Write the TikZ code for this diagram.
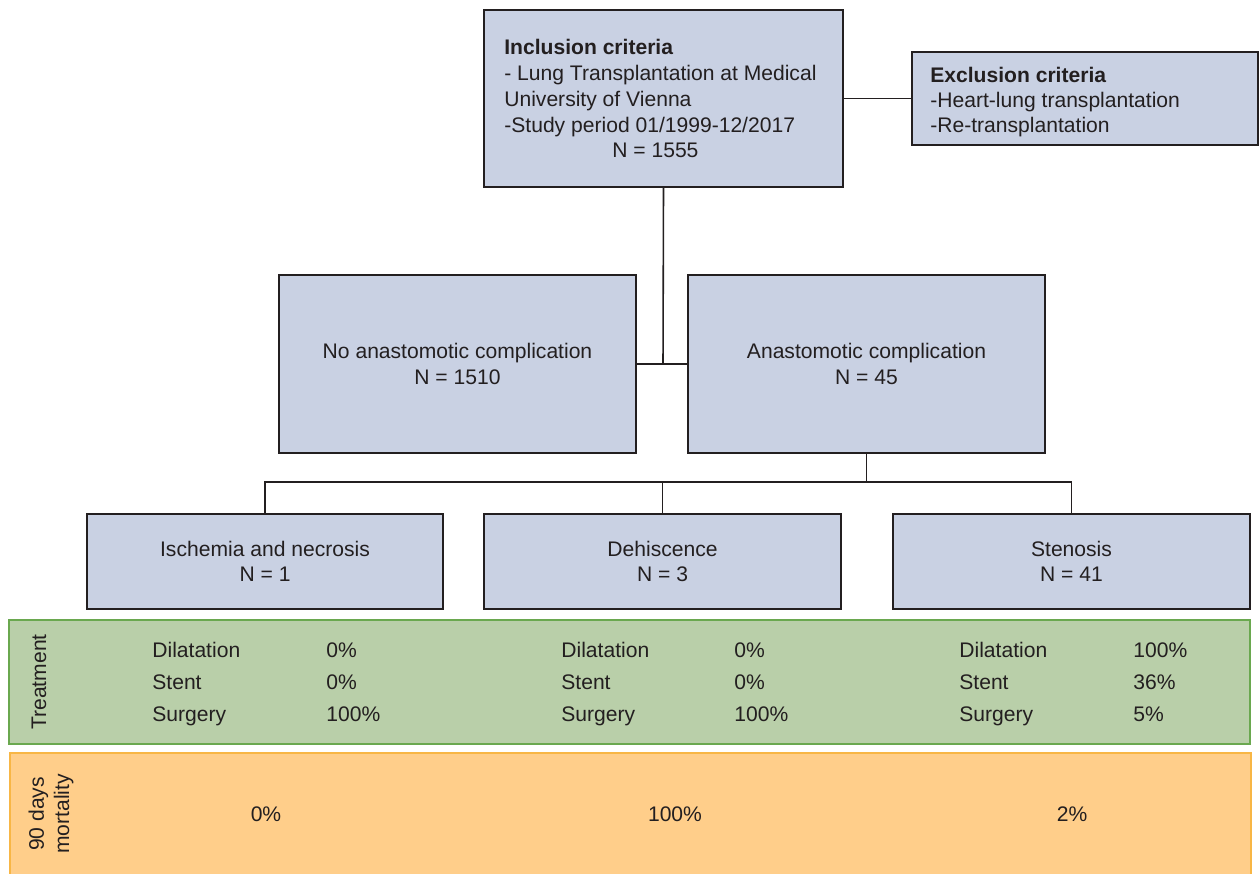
\documentclass[tikz,border=0pt]{standalone}
\usepackage{fontspec}
\setmainfont{Liberation Sans}
\usetikzlibrary{positioning}
\definecolor{fcBlue}{HTML}{C9D1E3}
\definecolor{fcLine}{HTML}{231F20}
\definecolor{fcGreen}{HTML}{B9CFA9}
\definecolor{fcGreenDark}{HTML}{6AA84F}
\definecolor{fcOrange}{HTML}{FFCE8A}
\definecolor{fcOrangeDark}{HTML}{F8B645}

\begin{document}
\begin{tikzpicture}[
  x=0.02cm, y=-0.02cm,
  font=\fontsize{12}{14.4}\selectfont,
  text=fcLine,
  box/.style={
    draw=fcLine,
    line width=1.1pt,
    fill=fcBlue,
    inner sep=0pt,
    align=center
  },
  band/.style={
    line width=1.1pt,
    inner sep=0pt,
    minimum width=24.84cm
  },
  item/.style={anchor=base west,inner sep=0pt},
  link/.style={draw=fcLine,line width=0.9pt}
]
  \useasboundingbox (0,0) rectangle (1260,874);

  % flow boxes
  \node[box,minimum width=7.18cm,minimum height=3.54cm] (incl) at (663.5,98.5) {};
  \node[anchor=north west,inner sep=0pt,align=left,
        font=\fontsize{12}{14.7}\selectfont] (incltext) at (504,39)
    {\textbf{Inclusion criteria}\\
     - Lung Transplantation at Medical\\
     University of Vienna\\
     -Study period 01/1999-12/2017\\
     \hspace*{2.16cm}N = 1555};
  \node[box,minimum width=6.92cm,minimum height=1.86cm] (excl) at (1085,98.5) {};
  \node[anchor=west,inner sep=0pt,align=left] (excltext) at (930,102)
    {\textbf{Exclusion criteria}\\
     -Heart-lung transplantation\\
     -Re-transplantation};

  \node[box,minimum width=7.14cm,minimum height=3.56cm] (noanast) at (457.5,364)
    {No anastomotic complication\\N = 1510};
  \node[box,minimum width=7.14cm,minimum height=3.56cm] (anast) at (866.5,364)
    {Anastomotic complication\\N = 45};

  \node[box,minimum width=7.12cm,minimum height=1.9cm] (isch) at (265,561.5)
    {Ischemia and necrosis\\N = 1};
  \node[box,minimum width=7.14cm,minimum height=1.9cm] (dehis) at (662.5,561.5)
    {Dehiscence\\N = 3};
  \node[box,minimum width=7.14cm,minimum height=1.9cm] (steno) at (1071.5,561.5)
    {Stenosis\\N = 41};

  % connectors
  \coordinate (split) at (663,364);
  \coordinate (fork) at (866.5,482);
  \draw[link] (incl.east)--(excl.west);
  \draw[link] (incl.south)--(split);
  \draw[link] (noanast.east)--(anast.west);
  \draw[link] (anast.south)--(fork);
  \draw[link] (isch.north)|-(fork)-|(steno.north);
  \draw[link] (dehis.north)--(dehis.north|-fork);

  % treatment band
  \node[band,draw=fcGreenDark,fill=fcGreen,minimum height=2.48cm] (treat) at (629.5,682) {};
  \node[rotate=90,inner sep=0pt] (treatlabel) at (39,682) {Treatment};
  \node[item] (dil1) at (152,657) {Dilatation};
  \node[item] (ste1) at (152,689.5) {Stent};
  \node[item] (sur1) at (152,721) {Surgery};
  \node[item] (dil1v) at (326,657) {0\%};
  \node[item] (ste1v) at (326,689.5) {0\%};
  \node[item] (sur1v) at (326,721) {100\%};
  \node[item] (dil2) at (561,657) {Dilatation};
  \node[item] (ste2) at (561,689.5) {Stent};
  \node[item] (sur2) at (561,721) {Surgery};
  \node[item] (dil2v) at (734,657) {0\%};
  \node[item] (ste2v) at (734,689.5) {0\%};
  \node[item] (sur2v) at (734,721) {100\%};
  \node[item] (dil3) at (959,657) {Dilatation};
  \node[item] (ste3) at (959,689.5) {Stent};
  \node[item] (sur3) at (959,721) {Surgery};
  \node[item] (dil3v) at (1133,657) {100\%};
  \node[item] (ste3v) at (1133,689.5) {36\%};
  \node[item] (sur3v) at (1133,721) {5\%};

  % mortality band
  \node[band,draw=fcOrangeDark,fill=fcOrange,minimum height=2.46cm] (mort) at (630.5,814.5) {};
  \node[rotate=90,inner sep=0pt,align=center] (mortlabel) at (51,814) {90 days\\mortality};
  \node[anchor=base,inner sep=0pt] (mort1) at (266,821) {0\%};
  \node[anchor=base,inner sep=0pt] (mort2) at (675,821) {100\%};
  \node[anchor=base,inner sep=0pt] (mort3) at (1072,821) {2\%};
\end{tikzpicture}
\end{document}
